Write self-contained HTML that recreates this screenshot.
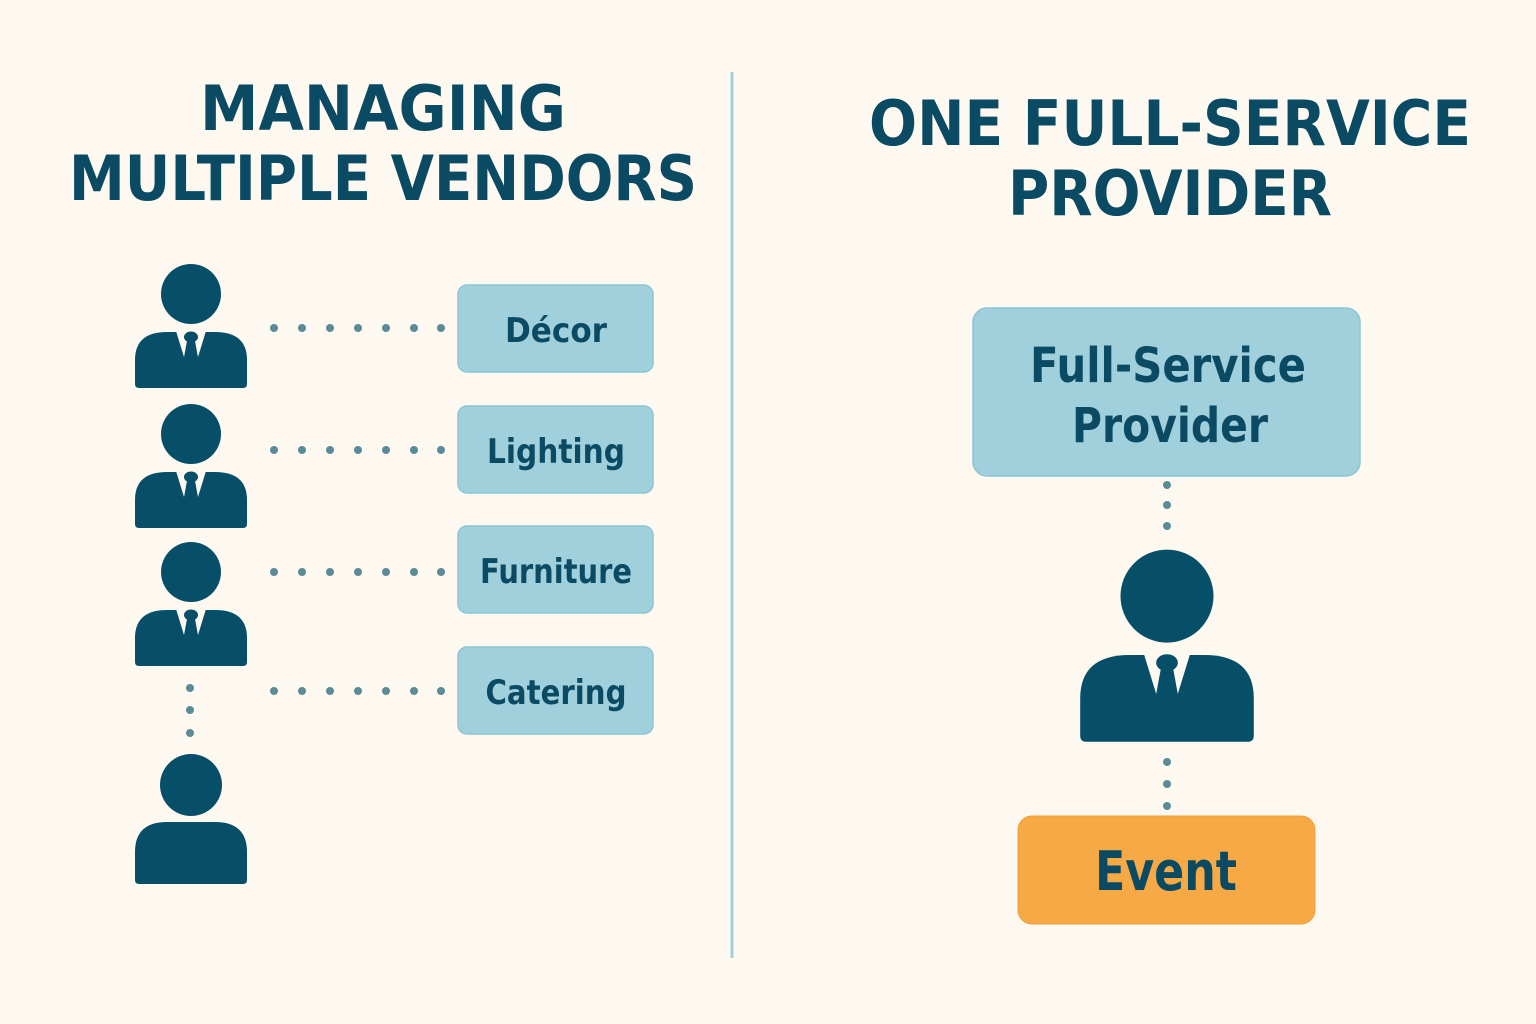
<!DOCTYPE html>
<html><head><meta charset="utf-8"><style>
html,body{margin:0;padding:0;background:#fdf8f0;}
svg{display:block}
</style></head><body>
<svg width="1536" height="1024" viewBox="0 0 1536 1024" xmlns="http://www.w3.org/2000/svg">
<defs>
<g id="p">
 <circle cx="0" cy="-38" r="30" fill="#074f68"/>
 <path d="M-56,52 V28 Q-56,0 -24,0 H24 Q56,0 56,28 V52 Q56,56 52,56 H-52 Q-56,56 -56,52 Z" fill="#074f68"/>
 <polygon points="-15,-1 15,-1 3,38 -3,38" fill="#fdf8f0"/>
 <ellipse cx="0" cy="5" rx="7" ry="5.5" fill="#074f68"/>
 <polygon points="-4,9 4,9 9,36 0,40 -9,36" fill="#074f68"/>
</g>
<g id="pn">
 <circle cx="0" cy="-37" r="31" fill="#074f68"/>
 <path d="M-56,58 V30 Q-56,0 -24,0 H24 Q56,0 56,30 V58 Q56,62 52,62 H-52 Q-56,62 -56,58 Z" fill="#074f68"/>
</g>
<g id="row" fill="#5a8b97"><circle cx="274" cy="0" r="4"/><circle cx="302" cy="0" r="4"/><circle cx="330" cy="0" r="4"/><circle cx="358" cy="0" r="4"/><circle cx="386" cy="0" r="4"/><circle cx="414" cy="0" r="4"/><circle cx="441" cy="0" r="4"/></g>
</defs>
<rect width="1536" height="1024" fill="#fdf8f0"/>
<line x1="732" y1="72" x2="732" y2="958" stroke="#9fd0dc" stroke-width="3"/>
<g font-family="'DejaVu Sans','Liberation Sans',sans-serif" font-weight="bold" fill="#0b4a63" text-anchor="middle">
<text x="383" y="130" font-size="62" textLength="366" lengthAdjust="spacingAndGlyphs">MANAGING</text>
<text x="383" y="200" font-size="62" textLength="628" lengthAdjust="spacingAndGlyphs">MULTIPLE VENDORS</text>
<text x="1170" y="145" font-size="62" textLength="602" lengthAdjust="spacingAndGlyphs">ONE FULL-SERVICE</text>
<text x="1170" y="215" font-size="62" textLength="324" lengthAdjust="spacingAndGlyphs">PROVIDER</text>
</g>
<use href="#p" x="191" y="332"/>
<use href="#p" x="191" y="472"/>
<use href="#p" x="191" y="610"/>
<use href="#pn" x="191" y="822"/>
<g transform="translate(1167,655) scale(1.55)"><use href="#p"/></g>
<g fill="#5a8b97">
<circle cx="190" cy="688" r="4"/><circle cx="190" cy="710" r="4"/><circle cx="190" cy="733" r="4"/>
<circle cx="1167" cy="485" r="4"/><circle cx="1167" cy="505" r="4"/><circle cx="1167" cy="526" r="4"/>
<circle cx="1167" cy="762" r="4"/><circle cx="1167" cy="784" r="4"/><circle cx="1167" cy="806" r="4"/>
</g>
<use href="#row" y="328"/><use href="#row" y="450"/><use href="#row" y="572"/><use href="#row" y="691"/>
<g fill="#9fd0dc" stroke="#8cc6d4" stroke-width="1.5">
<rect x="458" y="285" width="195" height="87" rx="9"/>
<rect x="458" y="406" width="195" height="87" rx="9"/>
<rect x="458" y="526" width="195" height="87" rx="9"/>
<rect x="458" y="647" width="195" height="87" rx="9"/>
<rect x="973" y="308" width="387" height="168" rx="14"/>
</g>
<rect x="1018" y="816" width="297" height="108" rx="14" fill="#f6a945" stroke="#f0a03a"/>
<g font-family="'DejaVu Sans','Liberation Sans',sans-serif" font-weight="bold" fill="#0b4a63" text-anchor="middle">
<text x="556" y="342" font-size="34" textLength="102" lengthAdjust="spacingAndGlyphs">Décor</text>
<text x="556" y="463" font-size="34" textLength="138" lengthAdjust="spacingAndGlyphs">Lighting</text>
<text x="556" y="583" font-size="34" textLength="152" lengthAdjust="spacingAndGlyphs">Furniture</text>
<text x="556" y="704" font-size="34" textLength="141" lengthAdjust="spacingAndGlyphs">Catering</text>
<text x="1168" y="382" font-size="48" textLength="276" lengthAdjust="spacingAndGlyphs">Full-Service</text>
<text x="1170" y="442" font-size="48" textLength="196" lengthAdjust="spacingAndGlyphs">Provider</text>
<text x="1166" y="890" font-size="54" textLength="142" lengthAdjust="spacingAndGlyphs">Event</text>
</g>
</svg>
</body></html>
